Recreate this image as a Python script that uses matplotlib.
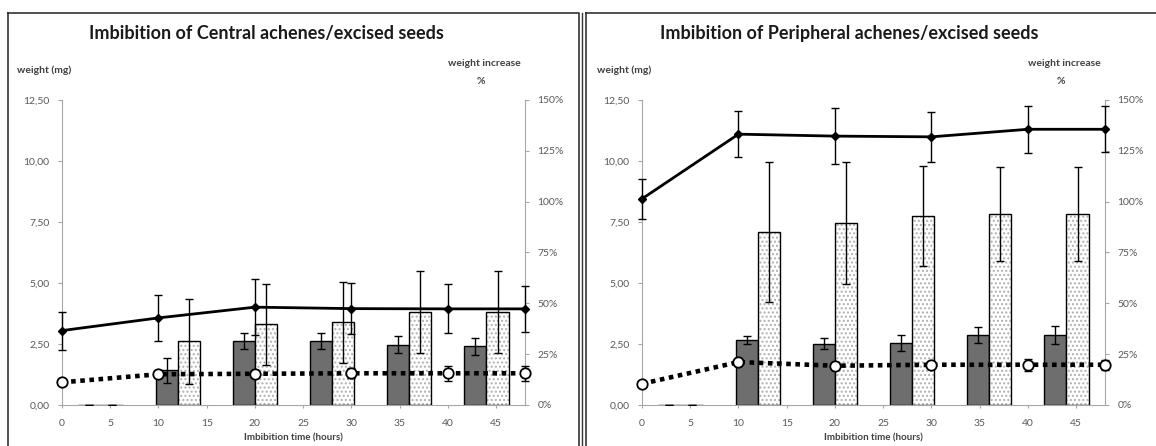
import numpy as np
import matplotlib
matplotlib.use("Agg")
import matplotlib.pyplot as plt
from matplotlib.ticker import FuncFormatter
from matplotlib.lines import Line2D

plt.rcParams['font.family'] = ['Lato', 'DejaVu Sans']

# sampling times (hours) for the weight curves
times = [0, 10, 20, 30, 40, 48]
# category centres of the bar groups (hours)
bar_x = [4, 12, 20, 28, 36, 44]
x_ticks = [0, 5, 10, 15, 20, 25, 30, 35, 40, 45]

# Central achenes / excised seeds
central_achene_mg = [3.05, 3.57, 4.01, 3.95, 3.94, 3.94]
central_achene_err = [0.78, 0.95, 1.15, 1.05, 1.0, 0.94]
central_seed_mg = [0.93, 1.26, 1.28, 1.30, 1.30, 1.30]
central_seed_err = [0.08, 0.12, 0.15, 0.2, 0.3, 0.3]
central_achene_pct = [0, 17.0, 31.3, 31.3, 29.7, 28.8]
central_achene_pct_err = [0, 6.0, 4.0, 4.0, 4.0, 4.0]
central_seed_pct = [0, 31.3, 39.6, 40.7, 45.7, 45.7]
central_seed_pct_err = [0, 21.0, 20.0, 20.0, 20.0, 20.0]

# Peripheral achenes / excised seeds
periph_achene_mg = [8.45, 11.10, 11.02, 10.99, 11.30, 11.30]
periph_achene_err = [0.83, 0.93, 1.14, 1.03, 0.97, 0.95]
periph_seed_mg = [0.87, 1.76, 1.61, 1.65, 1.65, 1.65]
periph_seed_err = [0.1, 0.15, 0.15, 0.15, 0.25, 0.2]
periph_achene_pct = [0, 32.0, 30.2, 30.5, 34.3, 34.3]
periph_achene_pct_err = [0, 2.1, 2.6, 3.8, 4.0, 4.5]
periph_seed_pct = [0, 85.2, 89.3, 92.8, 94.0, 94.0]
periph_seed_pct_err = [0, 34.5, 30.0, 24.5, 23.0, 23.0]

W, H = 1156, 446
fig = plt.figure(figsize=(W / 100, H / 100), dpi=100)

axis_grey = '#a6a6a6'
label_grey = '#595959'
bar_w = 2.3


def draw_panel(left_px, title, title_x, achene_mg, achene_err, seed_mg, seed_err,
               a_pct, a_pct_err, s_pct, s_pct_err):
    axl = left_px / W
    ax = fig.add_axes([axl, 41 / H, 463 / W, 305 / H])
    # bars on the % scale (primary axes, drawn below)
    xb = np.array(bar_x, dtype=float)
    ax.bar(xb - bar_w / 2, a_pct, width=bar_w, color='#6e6e6e', edgecolor='black',
           linewidth=1.0, zorder=2)
    ax.errorbar(xb - bar_w / 2, a_pct, yerr=a_pct_err, fmt='none', ecolor='black',
                elinewidth=1.0, capsize=3, zorder=3)
    ax.bar(xb + bar_w / 2, s_pct, width=bar_w, color='white', edgecolor='#b0b0b0',
           hatch='....', linewidth=0, zorder=2)
    ax.bar(xb + bar_w / 2, s_pct, width=bar_w, color='none', edgecolor='black',
           linewidth=1.0, zorder=2)
    ax.errorbar(xb + bar_w / 2, s_pct, yerr=s_pct_err, fmt='none', ecolor='black',
                elinewidth=1.0, capsize=3, zorder=3)
    ax.set_xlim(0, 48)
    ax.set_ylim(0, 150)

    # weights on the mg scale (twin axes, drawn above)
    ax2 = ax.twinx()
    ax.yaxis.tick_right()
    ax2.yaxis.tick_left()
    ax.set_yticks([0, 25, 50, 75, 100, 125, 150])
    ax.yaxis.set_major_formatter(FuncFormatter(lambda v, p: f'{v:.0f}%'))
    ax2.set_ylim(0, 12.5)
    ax2.set_yticks([0, 2.5, 5, 7.5, 10, 12.5])
    ax2.yaxis.set_major_formatter(FuncFormatter(lambda v, p: f'{v:.2f}'.replace('.', ',')))
    eb = ax2.errorbar(times, achene_mg, yerr=achene_err, color='black', lw=2.0,
                      marker='D', ms=4.5, elinewidth=1.0, capsize=3, zorder=4)
    for art in eb.lines[0:1] + eb.lines[1] + eb.lines[2]:
        art.set_clip_on(False)
    eb2 = ax2.errorbar(times, seed_mg, yerr=seed_err, fmt='none', ecolor='black',
                       elinewidth=1.0, capsize=3, zorder=4)
    for art in eb2.lines[1] + eb2.lines[2]:
        art.set_clip_on(False)
    ax2.plot(times, seed_mg, color='black', lw=3.3, linestyle=(0, (1, 1)),
             dash_capstyle='butt', marker='o', ms=7.5, mfc='white', mec='black',
             mew=1.3, zorder=5, clip_on=False)

    for a in (ax, ax2):
        a.set_xlim(0, 48)
        a.set_facecolor('none')
        for s in a.spines.values():
            s.set_visible(False)
        a.tick_params(axis='y', colors=axis_grey, labelcolor=label_grey,
                      labelsize=7.5, length=3, width=0.8, pad=6)
    ax.spines['bottom'].set_visible(True)
    ax.spines['bottom'].set_color(axis_grey)
    ax.spines['right'].set_visible(True)
    ax.spines['right'].set_color(axis_grey)
    ax2.spines['left'].set_visible(True)
    ax2.spines['left'].set_color(axis_grey)
    ax.set_xticks(x_ticks)
    ax.tick_params(axis='x', colors=axis_grey, labelcolor=label_grey,
                   labelsize=7.5, length=2, width=0.8, pad=8)
    ax.set_xlabel('Imbibition time (hours)', fontsize=7, fontweight='bold',
                  color='#404040', labelpad=4)

    fig.text(title_x / W, 1 - 33 / H, title, ha='center', va='center',
             fontsize=13, fontweight='bold', color='#1a1a1a')
    fig.text((left_px - 45) / W, 1 - 70 / H, 'weight (mg)', ha='left',
             va='center', fontsize=7.5, fontweight='bold', color='#404040')
    fig.text((left_px + 459) / W, 1 - 64 / H, 'weight increase', ha='right',
             va='center', fontsize=7.5, fontweight='bold', color='#404040')
    fig.text((left_px + 419) / W, 1 - 81 / H, '%', ha='center',
             va='center', fontsize=7.5, fontweight='bold', color='#404040')


draw_panel(62, 'Imbibition of Central achenes/excised seeds', 266,
           central_achene_mg, central_achene_err, central_seed_mg, central_seed_err,
           central_achene_pct, central_achene_pct_err, central_seed_pct,
           central_seed_pct_err)
draw_panel(642, 'Imbibition of Peripheral achenes/excised seeds', 849,
           periph_achene_mg, periph_achene_err, periph_seed_mg, periph_seed_err,
           periph_achene_pct, periph_achene_pct_err, periph_seed_pct,
           periph_seed_pct_err)

# panel frames
for x0, x1 in [(7.5, 578.5), (585.5, 1170)]:
    fig.add_artist(Line2D([x0 / W, x1 / W, x1 / W, x0 / W, x0 / W],
                          [1 - 12.5 / H, 1 - 12.5 / H, -0.1, -0.1, 1 - 12.5 / H],
                          transform=fig.transFigure, color='#333333', lw=1.2))
fig.add_artist(Line2D([581.5 / W, 581.5 / W], [1 - 12.5 / H, 0],
                      transform=fig.transFigure, color='#333333', lw=1.0))

fig.savefig('out.png', dpi=100)
